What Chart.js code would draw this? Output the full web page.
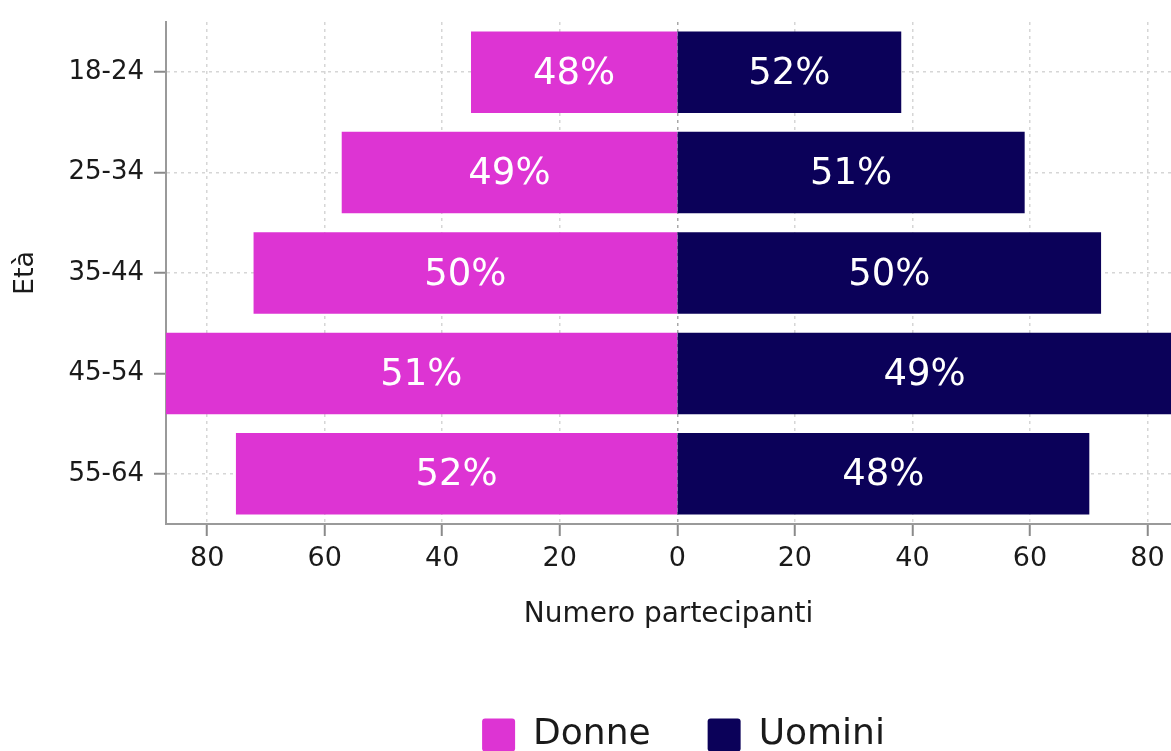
<!DOCTYPE html>
<html>
<head>
<meta charset="utf-8">
<script src="https://cdn.jsdelivr.net/npm/chart.js@4"></script>
<style>
  html, body { margin: 0; padding: 0; overflow: hidden; background: #ffffff; }
  #wrap { position: relative; width: 1171px; height: 763px; }
</style>
</head>
<body>
<div id="wrap"><canvas id="c" width="1171" height="763"></canvas></div>
<script>
// ---- Data ----
const ageGroups = ['18-24', '25-34', '35-44', '45-54', '55-64'];
const donne = [35, 57, 72, 89, 75];
const uomini = [38, 59, 72, 85, 70];
const donnePct = ['48%', '49%', '50%', '51%', '52%'];
const uominiPct = ['52%', '51%', '50%', '49%', '48%'];
const xTickValues = [-80, -60, -40, -20, 0, 20, 40, 60, 80];
const seriesNames = ['Donne', 'Uomini'];
const xTitle = 'Numero partecipanti';
const yTitle = 'Età';

const FONT = '"DejaVu Sans", sans-serif';
const PINK = '#DD34D3';
const NAVY = '#0B0159';

const barLabels = {
  id: 'barLabels',
  afterDatasetsDraw(chart) {
    const { ctx, chartArea } = chart;
    ctx.save();
    ctx.font = '37px ' + FONT;
    ctx.fillStyle = '#ffffff';
    ctx.textAlign = 'center';
    ctx.textBaseline = 'middle';
    chart.data.datasets.forEach((ds, di) => {
      const meta = chart.getDatasetMeta(di);
      meta.data.forEach((bar, i) => {
        const a = Math.max(chartArea.left, Math.min(chartArea.right, bar.x));
        const b = Math.max(chartArea.left, Math.min(chartArea.right, bar.base));
        ctx.fillText(ds.pctLabels[i], (a + b) / 2, bar.y + 2);
      });
    });
    ctx.restore();
  }
};

const legendShift = {
  id: 'legendShift',
  afterLayout(chart) {
    if (chart.legend) { chart.legend.left += 15; chart.legend.right += 15; }
  }
};

new Chart(document.getElementById('c'), {
  type: 'bar',
  data: {
    labels: ageGroups,
    datasets: [
      { label: seriesNames[0], data: donne.map(v => -v), backgroundColor: PINK, pctLabels: donnePct,
        barPercentage: 0.8, categoryPercentage: 1.0, borderWidth: 0, inflateAmount: 0.6 },
      { label: seriesNames[1], data: uomini, backgroundColor: NAVY, pctLabels: uominiPct,
        barPercentage: 0.8, categoryPercentage: 1.0, borderWidth: 0, inflateAmount: 0.6 }
    ]
  },
  options: {
    indexAxis: 'y',
    responsive: false,
    animation: false,
    devicePixelRatio: 1,
    layout: { padding: { top: 22, left: 0, right: 0, bottom: 0 } },
    plugins: {
      tooltip: { enabled: false },
      legend: {
        position: 'bottom',
        fullSize: false,
        labels: {
          font: { family: FONT, size: 36 },
          color: '#1a1a1a',
          boxWidth: 33,
          boxHeight: 33,
          padding: 57,
          useBorderRadius: true,
          borderRadius: 3
        }
      }
    },
    scales: {
      x: {
        stacked: true,
        min: -87,
        max: 84,
        afterBuildTicks: (scale) => { scale.ticks = xTickValues.map(v => ({ value: v })); },
        afterFit: (scale) => { scale.height = 136; scale.paddingLeft = 0; scale.paddingRight = 0; },
        ticks: {
          autoSkip: false,
          maxRotation: 0,
          padding: 7,
          color: '#1a1a1a',
          font: { family: FONT, size: 27 },
          callback: (v) => Math.abs(v)
        },
        grid: {
          color: (c) => (c.tick && c.tick.value === 0) ? '#a8a8a8' : '#d6d6d6',
          lineWidth: 1.5,
          drawTicks: true,
          tickLength: 12,
          tickColor: '#8a8a8a',
          tickWidth: 2,
          tickBorderDash: []
        },
        border: { display: true, color: '#9a9a9a', width: 2, dash: [3, 4] },
        title: {
          display: true,
          text: xTitle,
          color: '#1a1a1a',
          font: { family: FONT, size: 28 },
          padding: { top: 0, bottom: 28 }
        }
      },
      y: {
        stacked: true,
        offset: true,
        afterFit: (scale) => { scale.width = 166; scale.paddingTop = 0; scale.paddingBottom = 0; },
        ticks: {
          padding: 10,
          color: '#1a1a1a',
          font: { family: FONT, size: 26 }
        },
        grid: {
          offset: false,
          color: '#d6d6d6',
          lineWidth: 1.5,
          drawTicks: true,
          tickLength: 12,
          tickColor: '#8a8a8a',
          tickWidth: 2,
          tickBorderDash: []
        },
        border: { display: true, color: '#9a9a9a', width: 2, dash: [3, 4] },
        title: {
          display: true,
          text: yTitle,
          color: '#1a1a1a',
          font: { family: FONT, size: 27 },
          padding: { top: 10, bottom: 0 }
        }
      }
    }
  },
  plugins: [barLabels, legendShift]
});
</script>
</body>
</html>
